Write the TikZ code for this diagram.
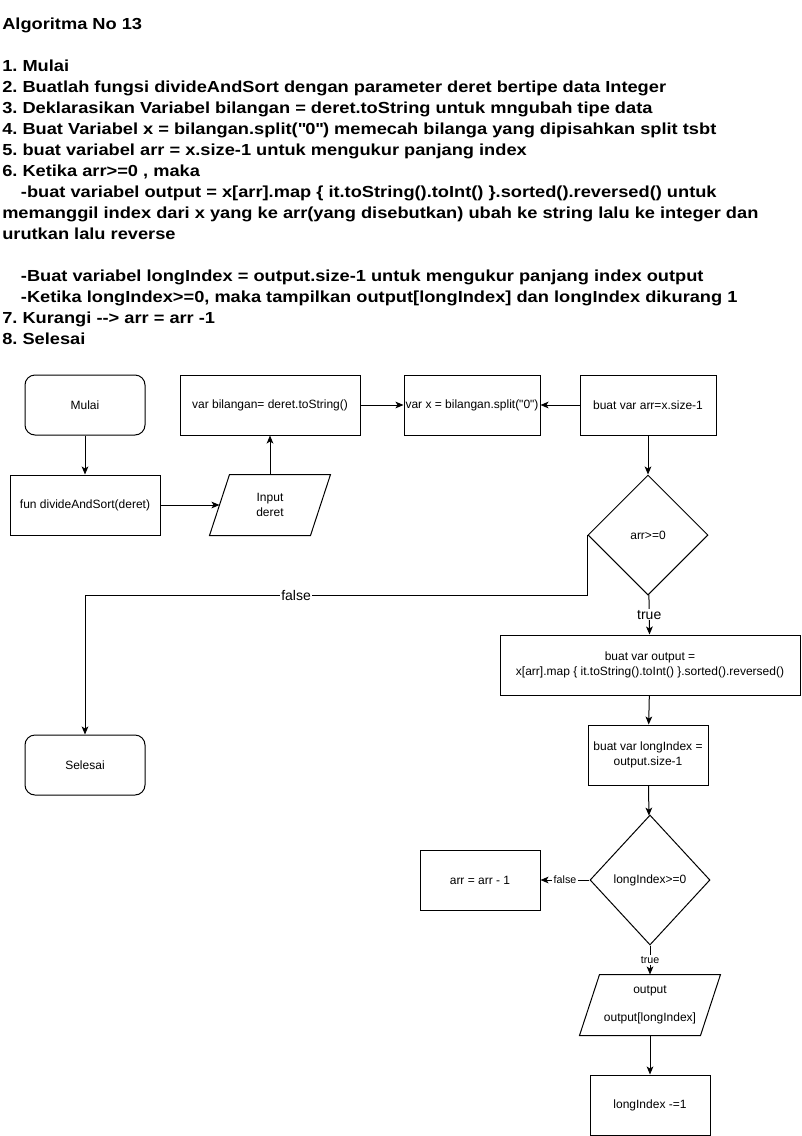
\documentclass[tikz,border=0pt]{standalone}
\usepackage{fontspec}
\setmainfont{Liberation Sans}
\newfontfamily\headfont{Liberation Sans}[FakeStretch=1.14]
\usetikzlibrary{arrows.meta,shapes.geometric}
\begin{document}
\begin{tikzpicture}[x=0.75pt,y=-0.75pt,
    box/.style={draw,line width=0.75pt,minimum height=45pt,inner sep=1pt,align=center,font=\fontsize{9}{11}\selectfont},
    term/.style={box,rounded corners=7.5pt,minimum width=90pt},
    cond/.style={draw,line width=0.75pt,diamond,inner sep=0pt,font=\fontsize{9}{11}\selectfont},
    io/.style={box,draw=none},
    link/.style={line width=0.75pt,-{Stealth[length=6pt,width=5pt,inset=1.5pt]}},
    lbl/.style={fill=white,inner sep=1pt,font=\fontsize{10.5}{12}\selectfont},
    lblsmall/.style={fill=white,inner sep=1pt,font=\fontsize{8}{10}\selectfont}]
      \useasboundingbox (0,0) rectangle (801,1136);
      \node[anchor=north west,inner sep=0pt,align=left,font=\headfont\fontsize{12}{15.75}\selectfont\bfseries\frenchspacing] (steps) at (2,17.5) {Algoritma No 13\\[15.75pt]
        1. Mulai\\
        2. Buatlah fungsi divideAndSort dengan parameter deret bertipe data Integer\\
        3. Deklarasikan Variabel bilangan = deret.toString untuk mngubah tipe data\\
        4. Buat Variabel x = bilangan.split(\textquotedbl0\textquotedbl) memecah bilanga yang dipisahkan split tsbt\\
        5. buat variabel arr = x.size-1 untuk mengukur panjang index\\
        6. Ketika arr>=0 , maka\\
        \hspace*{14pt}-buat variabel output = x[arr].map \{ it.toString().toInt() \}.sorted().reversed() untuk\\
        memanggil index dari x yang ke arr(yang disebutkan) ubah ke string lalu ke integer dan\\
        urutkan lalu reverse\\[15.75pt]
        \hspace*{14pt}-Buat variabel longIndex = output.size-1 untuk mengukur panjang index output\\
        \hspace*{14pt}-Ketika longIndex>=0, maka tampilkan output[longIndex] dan longIndex dikurang 1\\
        7. Kurangi -{}-> arr = arr -1\\
        8. Selesai};
      \node[term] (start) at (85,405) {Mulai};
      \node[box,minimum width=112.5pt] (fun) at (85,505) {fun divideAndSort(deret)};
      \node[io,minimum width=75pt] (inp) at (270,505) {Input\\deret};
      \node[box,minimum width=135pt] (bil) at (270,405) {var bilangan= deret.toString()};
      \node[box,minimum width=102pt] (split) at (472,405) {var x = bilangan.split(\textquotedbl0\textquotedbl)};
      \node[box,minimum width=102pt] (arr) at (648,405) {buat var arr=x.size-1};
      \node[cond,minimum width=90pt,minimum height=90pt] (cek) at (648,535) {arr>=0};
      \node[term] (stop) at (85,765) {Selesai};
      \node[box,minimum width=225pt] (out) at (650,665) {buat var output =\\x[arr].map \{ it.toString().toInt() \}.sorted().reversed()};
      \node[box,minimum width=90pt] (len) at (648,755) {buat var longIndex =\\output.size-1};
      \node[cond,minimum width=90pt,minimum height=97.5pt] (cekidx) at (650,880) {longIndex>=0};
      \node[box,minimum width=90pt] (kurang) at (480,880) {arr = arr - 1};
      \node[io,minimum width=90pt] (tampil) at (650,1005) {output\\[10pt]output[longIndex]};
      \node[box,minimum width=90pt] (dec) at (650,1105) {longIndex -=1};
      \foreach \p in {inp,tampil}
        \draw[line width=0.75pt] ([xshift=-7.5pt]\p.south west) -- ([xshift=7.5pt]\p.north west)
          -- ([xshift=7.5pt]\p.north east) -- ([xshift=-7.5pt]\p.south east) -- cycle;
      \draw[link] (start) -- (fun);
      \draw[link] (fun) -- (inp);
      \draw[link] (inp) -- (bil);
      \draw[link] (bil) -- (split);
      \draw[link] (arr) -- (split);
      \draw[link] (arr) -- (cek);
      \draw[link] (cek.west) -- ++(0,60) -| node[pos=0.29,lbl] {false} (stop);
      \draw[link] (cek) -- node[lbl] {true} (out);
      \draw[link] (out) -- (len);
      \draw[link] (len) -- (cekidx);
      \draw[link] (cekidx) -- node[lblsmall] {false} (kurang);
      \draw[link] (cekidx) -- node[lblsmall] {true} (tampil);
      \draw[link] (tampil) -- (dec);
    \end{tikzpicture}
\end{document}
